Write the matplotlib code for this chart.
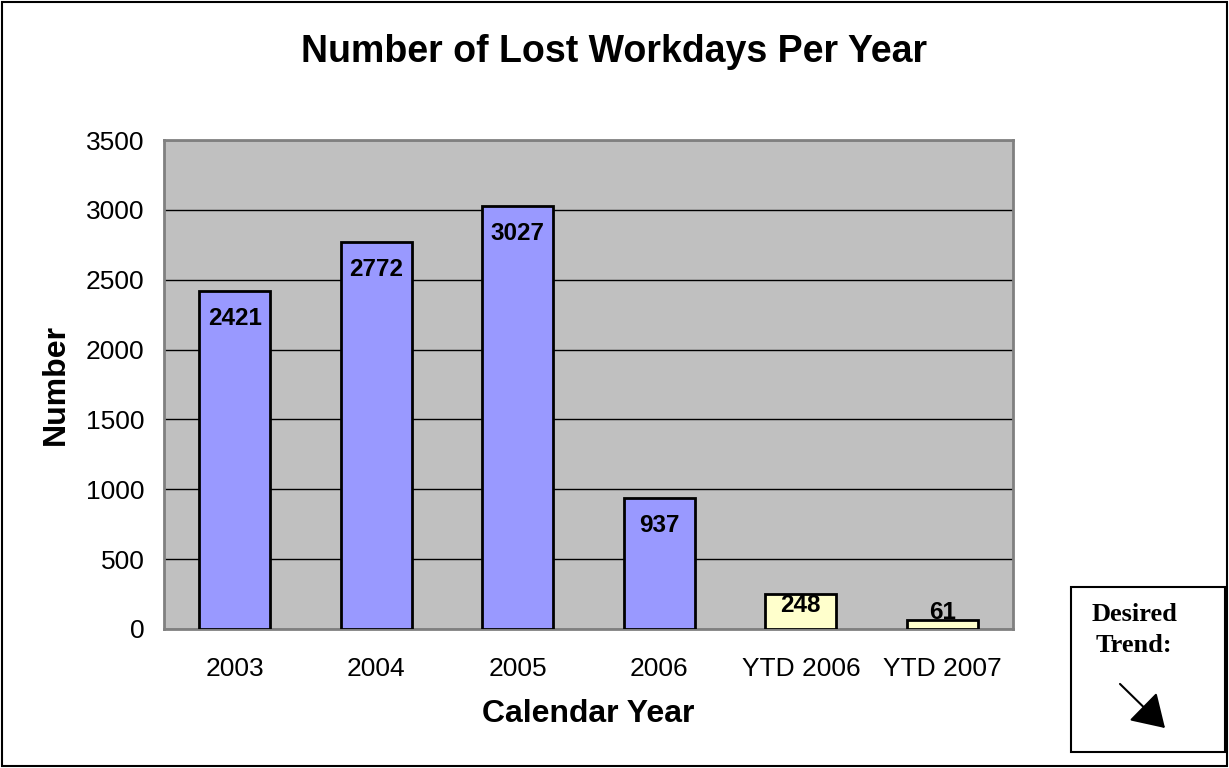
import matplotlib
matplotlib.use("Agg")
import matplotlib.pyplot as plt
from matplotlib.patches import Rectangle, FancyArrowPatch

categories = ["2003", "2004", "2005", "2006", "YTD 2006", "YTD 2007"]
values = [2421, 2772, 3027, 937, 248, 61]
bar_colors = ["#9999FF", "#9999FF", "#9999FF", "#9999FF", "#FFFFCC", "#FFFFCC"]
# vertical offset of each value label relative to bar top (points)
label_offsets = [-20, -20, -20, -20, -8, 6]
yticks = [0, 500, 1000, 1500, 2000, 2500, 3000, 3500]

plt.rcParams['font.family'] = ['Liberation Sans', 'DejaVu Sans']

fig = plt.figure(figsize=(12.29, 7.68), dpi=100)
ax = fig.add_axes([0.1335, 0.181, 0.6908, 0.6367])
ax.set_facecolor("#C0C0C0")

x = range(len(categories))
ax.bar(x, values, width=0.5, color=bar_colors, edgecolor="black", linewidth=2, zorder=3)
ax.set_xlim(-0.5, len(categories) - 0.5)
ax.set_ylim(0, 3500)
ax.set_yticks(yticks)
ax.yaxis.grid(True, color="black", linewidth=1)
ax.set_axisbelow(True)
ax.tick_params(length=0, labelsize=19)
ax.tick_params(axis="y", pad=14)
ax.tick_params(axis="x", pad=20)
ax.set_xticks(list(x))
ax.set_xticklabels(categories)
for s in ax.spines.values():
    s.set_color("#808080")
    s.set_linewidth(2)

for i, (v, off) in enumerate(zip(values, label_offsets)):
    ax.annotate(str(v), (i, v), xytext=(0, off), textcoords="offset points",
                ha="center", va="center", fontsize=17.5, fontweight="bold", zorder=4)

ax.set_xlabel("Calendar Year", fontsize=23, fontweight="bold", labelpad=13)
ax.set_ylabel("Number", fontsize=23, fontweight="bold", labelpad=11)
fig.text(0.5, 1 - 52 / 768, "Number of Lost Workdays Per Year", ha="center", va="center",
         fontsize=27, fontweight="bold")

# outer border
fig.patches.append(Rectangle((0.002, 0.003), 0.996, 0.994, transform=fig.transFigure,
                             fill=False, edgecolor="black", linewidth=1.5))
# desired trend box
fig.patches.append(Rectangle((1071 / 1229, 1 - 752 / 768), 154 / 1229, 165 / 768,
                             transform=fig.transFigure, fill=False, edgecolor="black",
                             linewidth=1.5))
fig.text(1134 / 1229, 1 - 630 / 768, "Desired\nTrend:", ha="center", va="center",
         fontsize=19, fontweight="bold", family=["Liberation Serif", "DejaVu Serif"],
         linespacing=1.4)
fig.patches.append(FancyArrowPatch((1118 / 1229, 1 - 682 / 768), (1167 / 1229, 1 - 730 / 768),
                                   transform=fig.transFigure, arrowstyle="-|>,head_length=8,head_width=5",
                                   color="black", linewidth=1.5, mutation_scale=2.5))

fig.savefig("out.png", dpi=100)
